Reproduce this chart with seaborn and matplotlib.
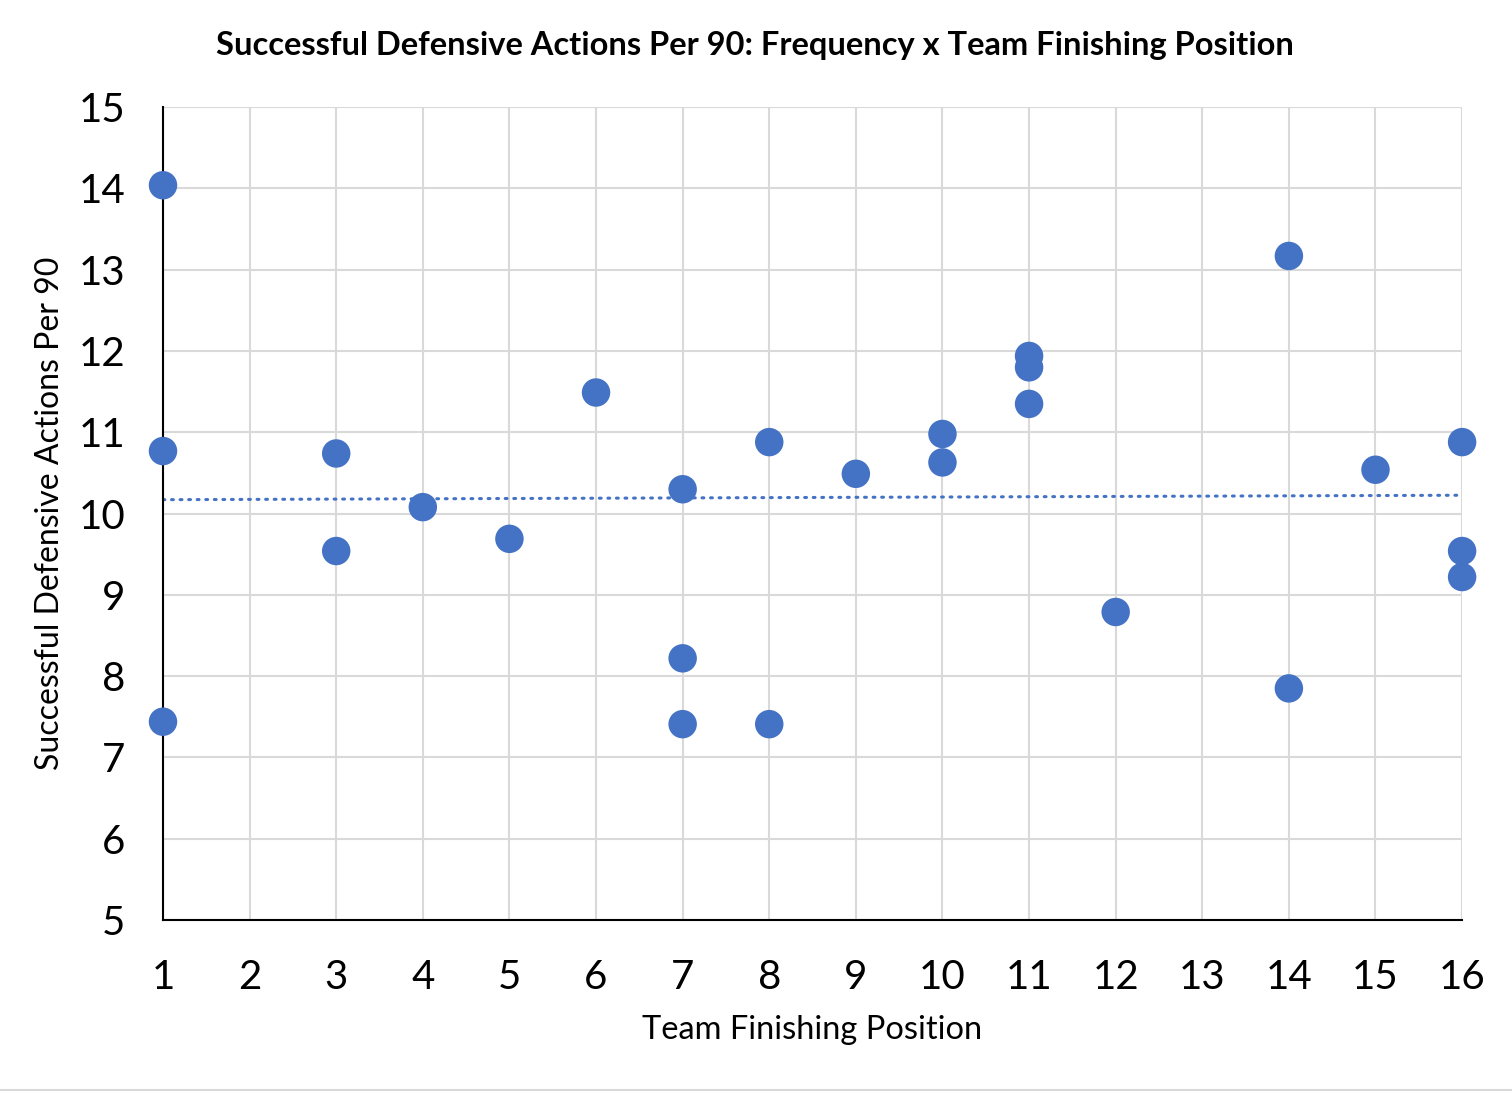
import numpy as np
import pandas as pd
import matplotlib
matplotlib.use("Agg")
import matplotlib.pyplot as plt
import seaborn as sns
from matplotlib.lines import Line2D

positions = [1, 1, 1, 3, 3, 4, 5, 6, 7, 7, 7, 8, 8, 9, 10, 10,
             11, 11, 11, 12, 14, 14, 15, 16, 16, 16]
actions = [14.04, 10.77, 7.44, 10.74, 9.54, 10.08, 9.69, 11.49, 10.30, 8.22, 7.41,
           10.88, 7.41, 10.49, 10.98, 10.63, 11.94, 11.80, 11.35, 8.79, 13.17, 7.85,
           10.54, 10.88, 9.54, 9.22]
x_ticks = list(range(1, 17))
y_ticks = list(range(5, 16))

df = pd.DataFrame({'Team Finishing Position': positions,
                   'Successful Defensive Actions Per 90': actions})

sns.set_style('white')
plt.rcParams['font.family'] = ['Lato', 'DejaVu Sans']
plt.rcParams['text.color'] = 'black'
plt.rcParams['axes.labelcolor'] = 'black'
plt.rcParams['xtick.color'] = 'black'
plt.rcParams['ytick.color'] = 'black'

fig = plt.figure(figsize=(15.12, 10.94), dpi=100)
ax = fig.add_axes([0.1078, 0.159, 0.8592, 0.743])

blue = '#4472C4'
sns.scatterplot(data=df, x='Team Finishing Position', y='Successful Defensive Actions Per 90',
                ax=ax, color=blue, s=420, edgecolor='none', zorder=3, clip_on=False)

# linear trendline
slope, intercept = np.polyfit(positions, actions, 1)
xs = np.array([min(x_ticks), max(x_ticks)])
ax.plot(xs, slope * xs + intercept, color=blue, linestyle=(0, (0.6, 2.2)),
        linewidth=2.2, dash_capstyle='round', zorder=2)

ax.set_xlim(1, 16)
ax.set_ylim(5, 15)
ax.set_xticks(x_ticks)
ax.set_yticks(y_ticks)
ax.grid(True, color='#D9D9D9', linewidth=1.5, zorder=0)
ax.set_axisbelow(True)
for s in ['top', 'right']:
    ax.spines[s].set_visible(False)
for s in ['left', 'bottom']:
    ax.spines[s].set_color('black')
    ax.spines[s].set_linewidth(1.5)
    ax.spines[s].set_zorder(2.5)
ax.tick_params(axis='both', length=0, labelsize=29)
ax.tick_params(axis='x', pad=28)
ax.tick_params(axis='y', pad=27)
ax.set_xlabel('Team Finishing Position', fontsize=23.5, labelpad=14)
ax.set_ylabel('Successful Defensive Actions Per 90', fontsize=23, labelpad=10)
fig.suptitle('Successful Defensive Actions Per 90: Frequency x Team Finishing Position',
             x=0.499, y=0.972, fontsize=23.5, fontweight='bold')

# faint frame edge at the bottom of the sheet
fig.add_artist(Line2D([0, 1], [0.0035, 0.0035], color='#D9D9D9', linewidth=1.5,
                      transform=fig.transFigure))

fig.savefig('out.png', dpi=100)
